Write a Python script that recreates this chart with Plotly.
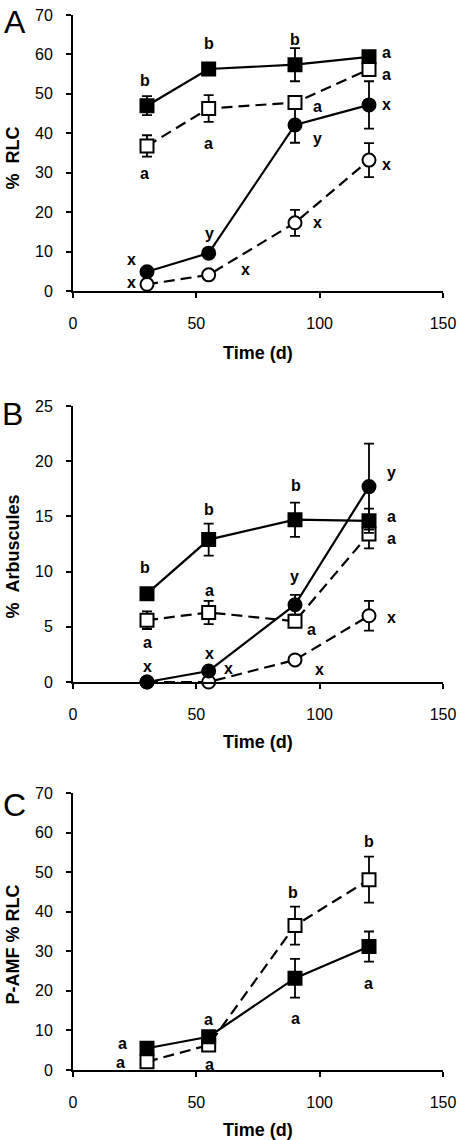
import plotly.graph_objects as go

# ---------------- data ----------------
days = [30, 55, 90, 120]

# Panel A: % RLC
a_fill_sq = [47.0, 56.3, 57.4, 59.4]
a_fill_sq_err = [2.4, 1.2, 4.2, 1.2]
a_open_sq = [36.8, 46.3, 47.8, 56.2]
a_open_sq_err = [2.7, 3.4, 1.5, 1.5]
a_fill_ci = [4.9, 9.6, 42.1, 47.2]
a_fill_ci_err = [0.8, 1.0, 4.5, 6.0]
a_open_ci = [1.7, 4.1, 17.3, 33.2]
a_open_ci_err = [0.5, 0.8, 3.3, 4.3]

# Panel B: % Arbuscules
b_fill_sq = [8.0, 12.9, 14.7, 14.6]
b_fill_sq_err = [0.5, 1.45, 1.55, 1.1]
b_open_sq = [5.6, 6.3, 5.5, 13.4]
b_open_sq_err = [0.8, 1.05, 0.5, 1.3]
b_fill_ci = [0.0, 1.0, 7.0, 17.7]
b_fill_ci_err = [0.0, 0.3, 0.9, 3.9]
b_open_ci = [0.0, 0.0, 2.0, 6.0]
b_open_ci_err = [0.0, 0.0, 0.3, 1.35]

# Panel C: P-AMF % RLC
c_fill_sq = [5.5, 8.4, 23.2, 31.2]
c_fill_sq_err = [0.8, 1.0, 4.9, 3.8]
c_open_sq = [2.1, 6.3, 36.5, 48.1]
c_open_sq_err = [0.5, 1.0, 4.8, 5.8]

# significance letters: (x, y, text)
a_letters_x = [29, 55, 90, 127, 127, 99.3, 55, 29, 127, 99.3, 127, 99.3, 55.5, 23.7, 23.7, 70]
a_letters_y = [53.5, 62.8, 63.8, 60.4, 55.0, 46.9, 37.4, 29.8, 47.3, 38.7, 32.0, 17.3, 14.6, 7.9, 2.1, 5.5]
a_letters = ["b", "b", "b", "a", "a", "a", "a", "a", "x", "y", "x", "x", "y", "x", "x", "x"]

b_letters_x = [29, 55, 90.5, 129, 129, 129, 55.5, 89.8, 96.6, 30.4, 129, 30.4, 55.5, 63.2, 100]
b_letters_y = [10.4, 15.6, 17.8, 19.0, 15.0, 13.0, 8.3, 9.6, 4.8, 3.6, 5.8, 1.4, 2.6, 1.2, 1.1]
b_letters = ["b", "b", "b", "y", "a", "a", "a", "y", "a", "a", "x", "x", "x", "x", "x"]

c_letters_x = [20, 19.3, 54.8, 55.5, 89.2, 90.3, 120, 119.6]
c_letters_y = [6.7, 1.9, 12.7, 1.5, 44.9, 13.1, 57.8, 21.9]
c_letters = ["a", "a", "a", "a", "b", "a", "b", "a"]

x_ticks = [0, 50, 100, 150]

# ---------------- figure ----------------
W, H = 459, 1140
FONT = "Liberation Sans, Arial, sans-serif"
fig = go.Figure()


def py(px):
    return (H - px) / H


def add_series(xa, ya, vals, errs, symbol, filled, dash):
    fig.add_trace(go.Scatter(
        x=days, y=vals, xaxis=xa, yaxis=ya, mode="lines+markers",
        cliponaxis=False, showlegend=False,
        line=dict(color="black", width=2.2, dash=dash),
        marker=dict(symbol=symbol, size=13,
                    color="black" if filled else "white",
                    line=dict(color="black", width=2)),
        error_y=dict(type="data", array=errs, visible=True,
                     color="black", thickness=1.8, width=5),
    ))


DASH = "11px,6px"
# panel A
add_series("x", "y", a_open_ci, a_open_ci_err, "circle", False, DASH)
add_series("x", "y", a_fill_ci, a_fill_ci_err, "circle", True, "solid")
add_series("x", "y", a_fill_sq, a_fill_sq_err, "square", True, "solid")
add_series("x", "y", a_open_sq, a_open_sq_err, "square", False, DASH)
# panel B
add_series("x2", "y2", b_open_ci, b_open_ci_err, "circle", False, DASH)
add_series("x2", "y2", b_open_sq, b_open_sq_err, "square", False, DASH)
add_series("x2", "y2", b_fill_sq, b_fill_sq_err, "square", True, "solid")
add_series("x2", "y2", b_fill_ci, b_fill_ci_err, "circle", True, "solid")
# panel C
add_series("x3", "y3", c_open_sq, c_open_sq_err, "square", False, DASH)
add_series("x3", "y3", c_fill_sq, c_fill_sq_err, "square", True, "solid")

x_dom = [73 / W, 443 / W]
panels = [
    # (suffix, top px, bottom px, yrange, dtick)
    ("", 15, 291, [0, 70], 10),
    ("2", 406, 682, [0, 25], 5),
    ("3", 793, 1070, [0, 70], 10),
]

axis_common = dict(showgrid=False, zeroline=False, showline=True, linewidth=2,
                   linecolor="black", ticks="outside", ticklen=5, tickwidth=2,
                   tickcolor="black", automargin=False,
                   tickfont=dict(family=FONT, size=16, color="black"))

layout = dict(width=W, height=H, margin=dict(l=0, r=0, t=0, b=0),
              paper_bgcolor="white", plot_bgcolor="white", showlegend=False)

for suf, top, bot, yr, dt in panels:
    layout["xaxis" + suf] = dict(domain=x_dom, range=[0, 150], tickvals=x_ticks,
                                 anchor="y" + suf, ticklabelstandoff=12,
                                 **axis_common)
    layout["yaxis" + suf] = dict(domain=[py(bot), py(top)], range=yr, dtick=dt,
                                 anchor="x" + suf, ticklabelstandoff=10,
                                 **axis_common)

fig.update_layout(**layout)

ann = []
letter_font = dict(family=FONT, size=16, color="black")
for suf, xs, ys, ts in [("", a_letters_x, a_letters_y, a_letters),
                        ("2", b_letters_x, b_letters_y, b_letters),
                        ("3", c_letters_x, c_letters_y, c_letters)]:
    for xv, yv, t in zip(xs, ys, ts):
        ann.append(dict(x=xv, y=yv, xref="x" + suf, yref="y" + suf, text="<b>%s</b>" % t,
                        showarrow=False, font=letter_font,
                        xanchor="center", yanchor="middle"))

# panel letters
for t, xc, yc in [("A", 14.5, 21.5), ("B", 12.5, 414), ("C", 14.5, 805)]:
    ann.append(dict(x=xc / W, y=py(yc), xref="paper", yref="paper", text=t,
                    showarrow=False, font=dict(family=FONT, size=32, color="black"),
                    xanchor="center", yanchor="middle"))

# axis titles
title_font = dict(family=FONT, size=18, color="black")
xmid = (73 + 443) / 2 / W
for yc in [353, 742, 1130]:
    ann.append(dict(x=xmid, y=py(yc), xref="paper", yref="paper", text="<b>Time (d)</b>",
                    showarrow=False, font=title_font, xanchor="center", yanchor="middle"))
for t, yc in [("%\u00a0\u00a0RLC", 158), ("%\u00a0\u00a0Arbuscules", 557), ("P-AMF % RLC", 945)]:
    ann.append(dict(x=12.5 / W, y=py(yc), xref="paper", yref="paper", text="<b>%s</b>" % t,
                    showarrow=False, font=title_font, textangle=-90,
                    xanchor="center", yanchor="middle"))

fig.update_layout(annotations=ann)
fig.write_html("out.html", config={"displayModeBar": False},
               post_script="document.body.style.margin='0';document.body.style.overflow='hidden';")
